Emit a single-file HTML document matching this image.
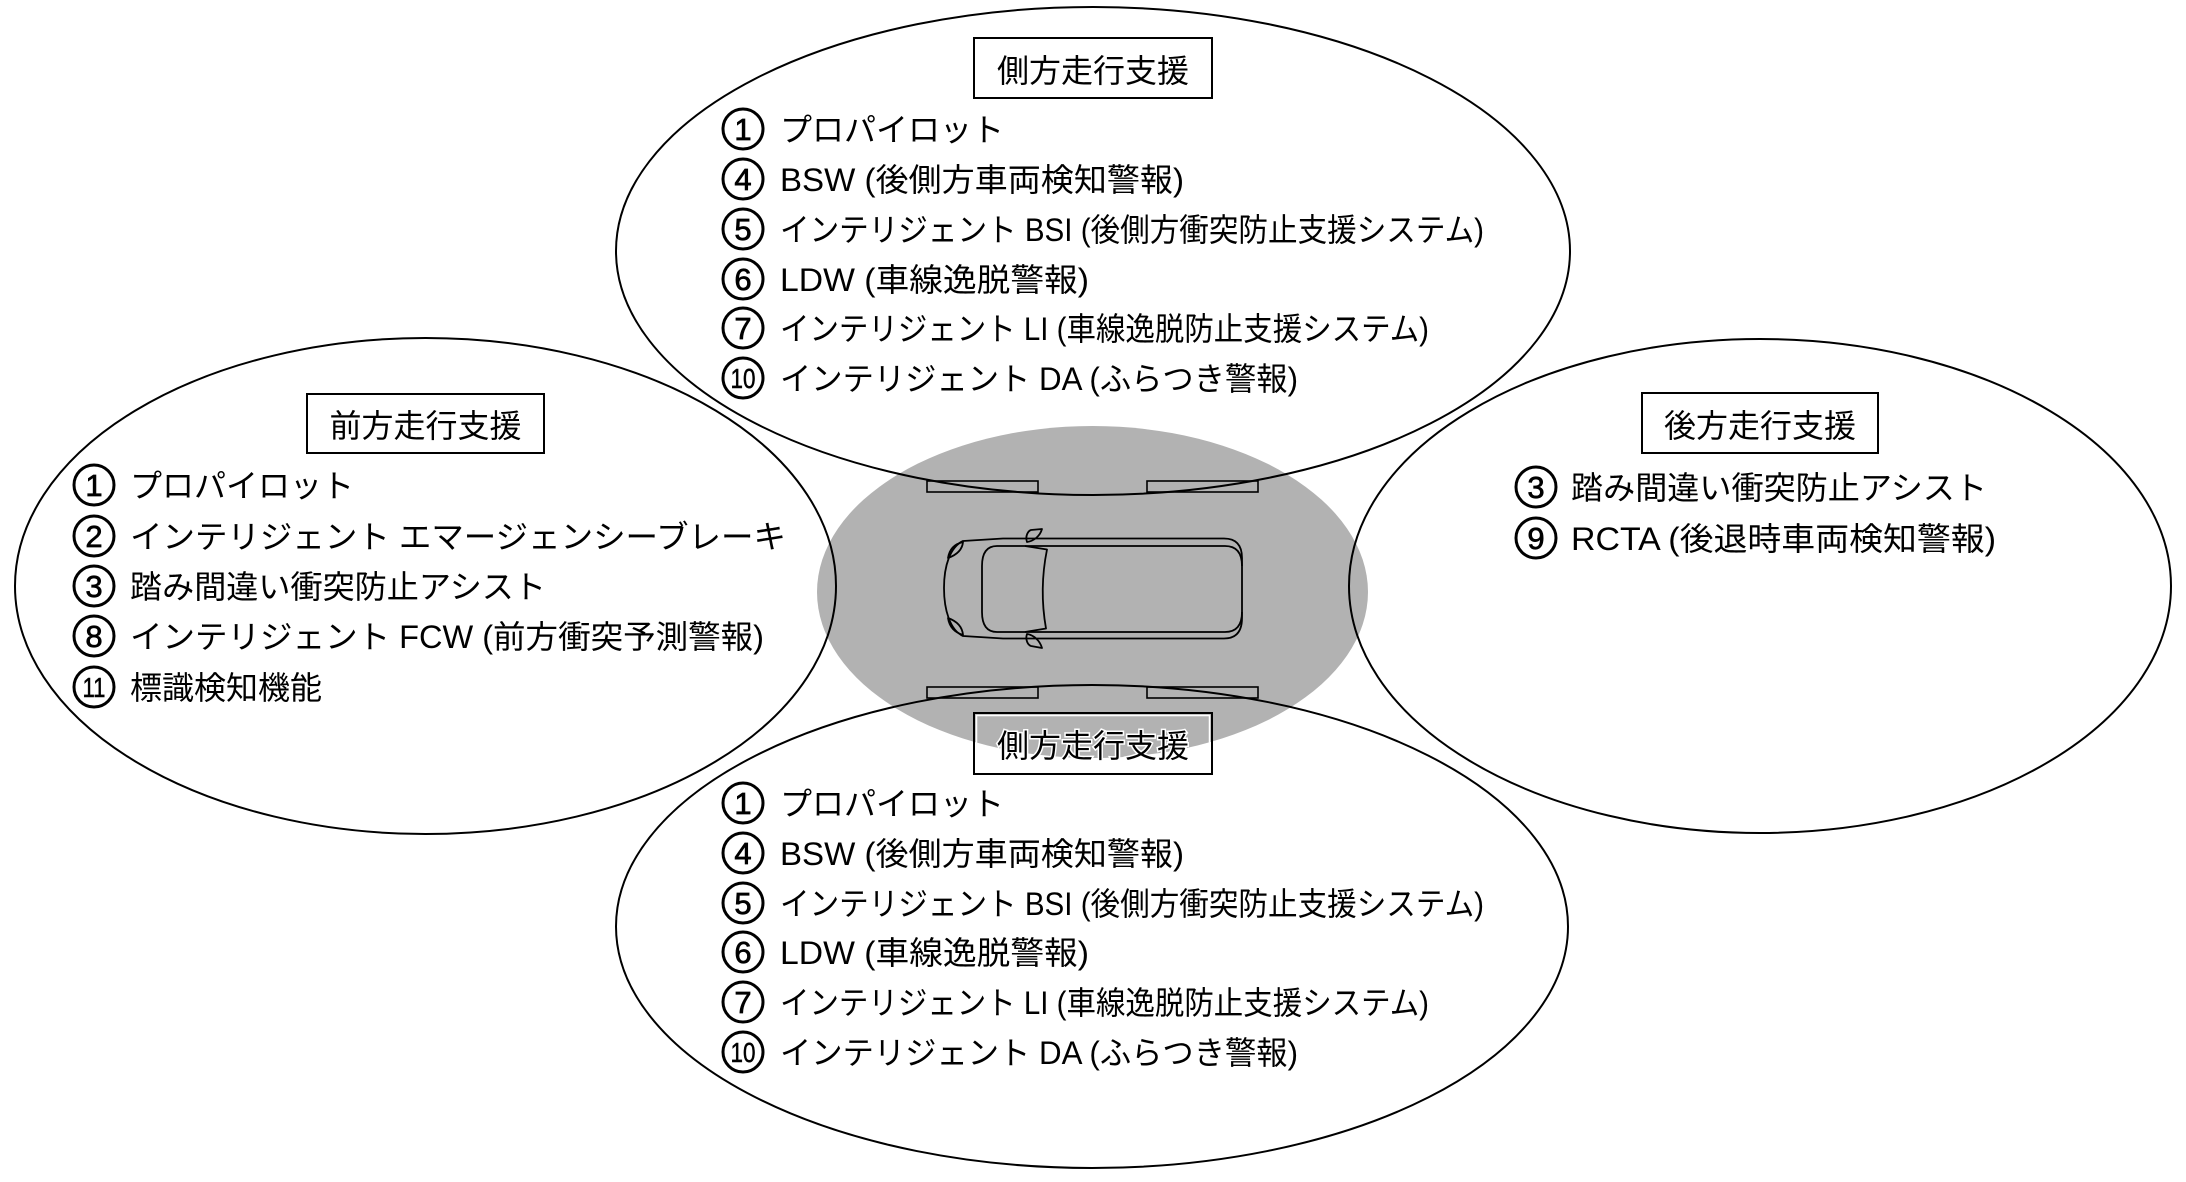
<!DOCTYPE html>
<html>
<head>
<meta charset="utf-8">
<style>
html,body{margin:0;padding:0;background:#fff;}
svg{display:block;}
text{font-family:"Liberation Sans","Noto Sans CJK JP",sans-serif;fill:#000;}
.t{font-size:32px;}
.d{font-size:31px;text-anchor:middle;stroke:#000;stroke-width:0.7;}
.dd{font-size:28px;text-anchor:middle;stroke:#000;stroke-width:0.5;}
.lb{font-size:32px;text-anchor:middle;}
</style>
</head>
<body>
<svg width="2186" height="1182" viewBox="0 0 2186 1182" xmlns="http://www.w3.org/2000/svg">
<rect x="0" y="0" width="2186" height="1182" fill="#fff"/>
<!-- gray zone -->
<ellipse cx="1092.5" cy="592" rx="275.5" ry="166" fill="#b2b2b2"/>

<!-- sensors -->
<g fill="none" stroke="#000" stroke-width="1.6">
<rect x="927" y="481" width="111" height="11"/>
<rect x="1147" y="481" width="111" height="11"/>
<rect x="927" y="687" width="111" height="11"/>
<rect x="1147" y="687" width="111" height="11"/>
</g>

<!-- car -->
<g fill="none" stroke="#000" stroke-width="1.8" stroke-linejoin="round">
<path d="M963,541 L1003,538.5 L1224,538.5 Q1242,538.5 1242,558 L1242,618 Q1242,638.5 1224,638.5 L1003,638.5 L963,636 C950,630 944,610 944,588 C944,566 950,547 963,541 Z"/>
<path d="M1242,566 Q1242,546 1225,546 L997,546 Q982,546 982,566 L982,612 Q982,632 997,632 L1225,632 Q1242,632 1242,612"/>
<path d="M1025,546 L1047,549.5 Q1039,589 1046,628.5 L1025,632"/>
<path d="M948,558 Q950,545 963,542 Q962,553 948,558 Z"/>
<path d="M948,618 Q950,631 963,635 Q962,623 948,618 Z"/>
<path d="M1027,542 C1025,536 1028,531 1031,530 L1042,529 C1040,536 1034,541 1027,542 Z"/>
<path d="M1027,634 C1025,640 1028,645 1031,646 L1042,648 C1040,641 1034,635 1027,634 Z"/>
</g>

<!-- main ellipses -->
<g fill="none" stroke="#000" stroke-width="2">
<ellipse cx="1093" cy="251" rx="477" ry="244"/>
<ellipse cx="1092" cy="926.5" rx="476" ry="241.5"/>
<ellipse cx="425.5" cy="586" rx="410.5" ry="248"/>
<ellipse cx="1760" cy="586" rx="411" ry="247"/>
</g>

<!-- label boxes -->
<g fill="none" stroke="#000" stroke-width="2">
<rect x="974" y="38" width="238" height="60"/>
<rect x="307" y="394" width="237" height="59"/>
<rect x="1642" y="393" width="236" height="60"/>
<rect x="974" y="713" width="238" height="61"/>
</g>
<rect x="976.5" y="715.5" width="233" height="56" fill="none" stroke="#fff" stroke-width="1.5"/>

<text class="lb" x="1093" y="82" textLength="192" lengthAdjust="spacingAndGlyphs">側方走行支援</text>
<text class="lb" x="425.5" y="437" textLength="192" lengthAdjust="spacingAndGlyphs">前方走行支援</text>
<text class="lb" x="1760" y="437" textLength="192" lengthAdjust="spacingAndGlyphs">後方走行支援</text>
<text class="lb" x="1093" y="757" textLength="192" lengthAdjust="spacingAndGlyphs" stroke="#fff" stroke-width="3" paint-order="stroke">側方走行支援</text>

<!-- circles -->
<g fill="none" stroke="#000" stroke-width="3">
<circle cx="743" cy="129" r="20"/>
<circle cx="743" cy="179" r="20"/>
<circle cx="743" cy="229" r="20"/>
<circle cx="743" cy="279" r="20"/>
<circle cx="743" cy="328" r="20"/>
<circle cx="743" cy="378" r="20"/>
<circle cx="743" cy="803" r="20"/>
<circle cx="743" cy="853" r="20"/>
<circle cx="743" cy="903" r="20"/>
<circle cx="743" cy="952" r="20"/>
<circle cx="743" cy="1002" r="20"/>
<circle cx="743" cy="1052" r="20"/>
<circle cx="94" cy="485" r="20"/>
<circle cx="94" cy="536" r="20"/>
<circle cx="94" cy="586" r="20"/>
<circle cx="94" cy="636" r="20"/>
<circle cx="94" cy="687" r="20"/>
<circle cx="1536" cy="487" r="20"/>
<circle cx="1536" cy="538" r="20"/>
</g>

<!-- digits -->
<text class="d" x="743" y="140">1</text>
<text class="d" x="743" y="190">4</text>
<text class="d" x="743" y="240">5</text>
<text class="d" x="743" y="290">6</text>
<text class="d" x="743" y="339">7</text>
<text class="dd" x="743" y="388" textLength="25" lengthAdjust="spacingAndGlyphs">10</text>
<text class="d" x="743" y="814">1</text>
<text class="d" x="743" y="864">4</text>
<text class="d" x="743" y="914">5</text>
<text class="d" x="743" y="963">6</text>
<text class="d" x="743" y="1013">7</text>
<text class="dd" x="743" y="1062" textLength="25" lengthAdjust="spacingAndGlyphs">10</text>
<text class="d" x="94" y="496">1</text>
<text class="d" x="94" y="547">2</text>
<text class="d" x="94" y="597">3</text>
<text class="d" x="94" y="647">8</text>
<text class="dd" x="94" y="697" textLength="23" lengthAdjust="spacingAndGlyphs">11</text>
<text class="d" x="1536" y="498">3</text>
<text class="d" x="1536" y="549">9</text>

<!-- top items -->
<text class="t" x="780" y="141" textLength="224" lengthAdjust="spacingAndGlyphs">プロパイロット</text>
<text class="t" x="780" y="191" textLength="404" lengthAdjust="spacingAndGlyphs">BSW (後側方車両検知警報)</text>
<text class="t" x="780" y="241" textLength="704" lengthAdjust="spacingAndGlyphs">インテリジェント BSI (後側方衝突防止支援システム)</text>
<text class="t" x="780" y="291" textLength="309" lengthAdjust="spacingAndGlyphs">LDW (車線逸脱警報)</text>
<text class="t" x="780" y="340" textLength="649" lengthAdjust="spacingAndGlyphs">インテリジェント LI (車線逸脱防止支援システム)</text>
<text class="t" x="780" y="390" textLength="518" lengthAdjust="spacingAndGlyphs">インテリジェント DA (ふらつき警報)</text>

<!-- bottom items -->
<text class="t" x="780" y="815" textLength="224" lengthAdjust="spacingAndGlyphs">プロパイロット</text>
<text class="t" x="780" y="865" textLength="404" lengthAdjust="spacingAndGlyphs">BSW (後側方車両検知警報)</text>
<text class="t" x="780" y="915" textLength="704" lengthAdjust="spacingAndGlyphs">インテリジェント BSI (後側方衝突防止支援システム)</text>
<text class="t" x="780" y="964" textLength="309" lengthAdjust="spacingAndGlyphs">LDW (車線逸脱警報)</text>
<text class="t" x="780" y="1014" textLength="649" lengthAdjust="spacingAndGlyphs">インテリジェント LI (車線逸脱防止支援システム)</text>
<text class="t" x="780" y="1064" textLength="518" lengthAdjust="spacingAndGlyphs">インテリジェント DA (ふらつき警報)</text>

<!-- left items -->
<text class="t" x="130" y="497" textLength="224" lengthAdjust="spacingAndGlyphs">プロパイロット</text>
<text class="t" x="130" y="548" textLength="656" lengthAdjust="spacingAndGlyphs">インテリジェント エマージェンシーブレーキ</text>
<text class="t" x="130" y="598" textLength="416" lengthAdjust="spacingAndGlyphs">踏み間違い衝突防止アシスト</text>
<text class="t" x="130" y="648" textLength="634" lengthAdjust="spacingAndGlyphs">インテリジェント FCW (前方衝突予測警報)</text>
<text class="t" x="130" y="699" textLength="192" lengthAdjust="spacingAndGlyphs">標識検知機能</text>

<!-- right items -->
<text class="t" x="1571" y="499" textLength="416" lengthAdjust="spacingAndGlyphs">踏み間違い衝突防止アシスト</text>
<text class="t" x="1571" y="550" textLength="425" lengthAdjust="spacingAndGlyphs">RCTA (後退時車両検知警報)</text>
</svg>
</body>
</html>
